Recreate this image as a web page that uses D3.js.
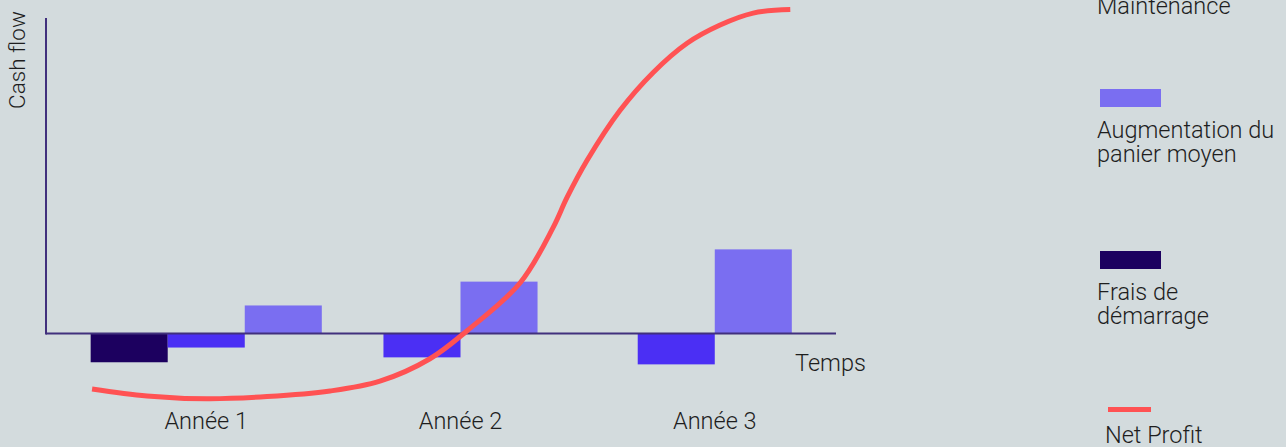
<!DOCTYPE html>
<html lang="fr">
<head>
<meta charset="utf-8">
<script src="https://cdn.jsdelivr.net/npm/d3@7"></script>
<style>
  html, body { margin: 0; padding: 0; background: #d3dbdd; }
  svg { display: block; }
  text { font-family: Roboto, "Noto Sans", sans-serif; font-weight: 300; fill: #1e1e1e; }
</style>
</head>
<body>
<svg id="chart" width="1286" height="447"></svg>
<script>
// Years on the time axis
const years = ["Année 1", "Année 2", "Année 3"];

// Cash flow per year for each bar series (0 = no bar that year)
const fraisDemarrage = [-4.1, 0, 0];
const maintenance = [-2.0, -3.4, -4.4];
const augmentationPanier = [4.0, 7.4, 12.0];

// Net profit curve: time (in years from the start) and cumulative value
const profitTime = [0.051, 0.267, 0.503, 0.739, 0.987, 1.183, 1.380, 1.526, 1.734, 1.864,
                    1.919, 1.998, 2.127, 2.257, 2.391, 2.521, 2.651, 2.797];
const profitValue = [-7.9, -8.9, -9.3, -9.0, -8.2, -6.8, -3.6, 0.4, 7.2, 15.1,
                     19.4, 24.7, 31.8, 37.2, 41.4, 44.0, 45.7, 46.2];

// Legend labels (one entry per line of text)
const legendLabels = [["Maintenance"], ["Augmentation du", "panier moyen"], ["Frais de", "démarrage"], ["Net Profit"]];

const colors = {
  frais: "#1c005f",
  maintenance: "#4b2ff4",
  augmentation: "#7a6ef1",
  profit: "#ff5253",
  axis: "#41307d"
};

const series = [
  { key: "frais", values: fraisDemarrage, color: colors.frais },
  { key: "maintenance", values: maintenance, color: colors.maintenance },
  { key: "augmentation", values: augmentationPanier, color: colors.augmentation }
];

const svg = d3.select("#chart");
const fontSize = "23.5px";

// Plot frame
const axisLeft = 46, axisRight = 836;

// Scales
const x = d3.scaleBand()
  .domain(years)
  .range([79.1, 841.9])
  .padding(0);

const xTime = d3.scaleLinear()
  .domain([0, years.length])
  .range(x.range());

const y = d3.scaleLinear()
  .domain([-16, 45])
  .range([445.7, 18]);

const barWidth = x.bandwidth() * 0.303;

// Bars: in each year only the non-zero series are drawn, centred on the year
const barData = [];
years.forEach((yr, i) => {
  const present = series.filter(s => s.values[i] !== 0);
  const sub = d3.scaleBand()
    .domain(present.map(s => s.key))
    .range([-barWidth * present.length / 2, barWidth * present.length / 2]);
  present.forEach(s => {
    barData.push({ year: yr, key: s.key, value: s.values[i], color: s.color,
                   x0: x(yr) + x.bandwidth() / 2 + sub(s.key), w: sub.bandwidth() });
  });
});

svg.append("g")
  .selectAll("rect")
  .data(barData)
  .join("rect")
  .attr("x", d => d.x0)
  .attr("width", d => d.w)
  .attr("y", d => y(Math.max(0, d.value)))
  .attr("height", d => Math.abs(y(d.value) - y(0)))
  .attr("fill", d => d.color);

// Axes
const xAxis = svg.append("g")
  .attr("transform", `translate(0,${y(0)})`)
  .call(d3.axisBottom(x).tickSize(0).tickSizeOuter(0));
xAxis.select(".domain").remove();
xAxis.selectAll(".tick text")
  .attr("y", 0)
  .attr("dy", 0)
  .attr("transform", `translate(0,${429 - y(0)})`)
  .style("font-family", "Roboto, 'Noto Sans', sans-serif")
  .style("font-weight", 300)
  .style("font-size", fontSize)
  .attr("fill", "#1e1e1e");

svg.append("line")
  .attr("x1", axisLeft).attr("x2", axisRight)
  .attr("y1", y(0)).attr("y2", y(0))
  .attr("stroke", colors.axis).attr("stroke-width", 2);

svg.append("line")
  .attr("x1", axisLeft).attr("x2", axisLeft)
  .attr("y1", y.range()[1]).attr("y2", y(0) + 1)
  .attr("stroke", colors.axis).attr("stroke-width", 2);

// Axis titles
svg.append("text")
  .attr("transform", `translate(25,60) rotate(-90)`)
  .attr("text-anchor", "middle")
  .style("font-size", "22.5px")
  .text("Cash flow");

svg.append("text")
  .attr("x", 795).attr("y", 371)
  .style("font-size", fontSize)
  .text("Temps");

// Net profit curve
const profit = profitTime.map((t, i) => ({ t, v: profitValue[i] }));
svg.append("path")
  .datum(profit)
  .attr("fill", "none")
  .attr("stroke", colors.profit)
  .attr("stroke-width", 5)
  .attr("d", d3.line().x(d => xTime(d.t)).y(d => y(d.v)).curve(d3.curveCatmullRom.alpha(0.5)));

// Legend
const legendItems = [
  { type: "rect", color: colors.maintenance, lines: legendLabels[0], top: -35 },
  { type: "rect", color: colors.augmentation, lines: legendLabels[1], top: 89 },
  { type: "rect", color: colors.frais, lines: legendLabels[2], top: 251 },
  { type: "line", color: colors.profit, lines: legendLabels[3], top: 400.5 }
];

const legend = svg.append("g");
const item = legend.selectAll("g")
  .data(legendItems)
  .join("g")
  .attr("transform", d => `translate(0,${d.top})`);

item.filter(d => d.type === "rect").append("rect")
  .attr("x", 1100).attr("y", 0)
  .attr("width", 61).attr("height", 18)
  .attr("fill", d => d.color);

item.filter(d => d.type === "line").append("line")
  .attr("x1", 1108).attr("x2", 1151)
  .attr("y1", 9).attr("y2", 9)
  .attr("stroke", d => d.color).attr("stroke-width", 5);

item.append("text")
  .attr("x", d => d.type === "line" ? 1105 : 1097)
  .attr("y", d => d.type === "line" ? 42.5 : 49)
  .style("font-size", fontSize)
  .selectAll("tspan")
  .data(d => d.lines.map((l, i) => ({ l, i, x: d.type === "line" ? 1105 : 1097 })))
  .join("tspan")
  .attr("x", d => d.x)
  .attr("dy", d => d.i === 0 ? 0 : 24)
  .text(d => d.l);
</script>
</body>
</html>
